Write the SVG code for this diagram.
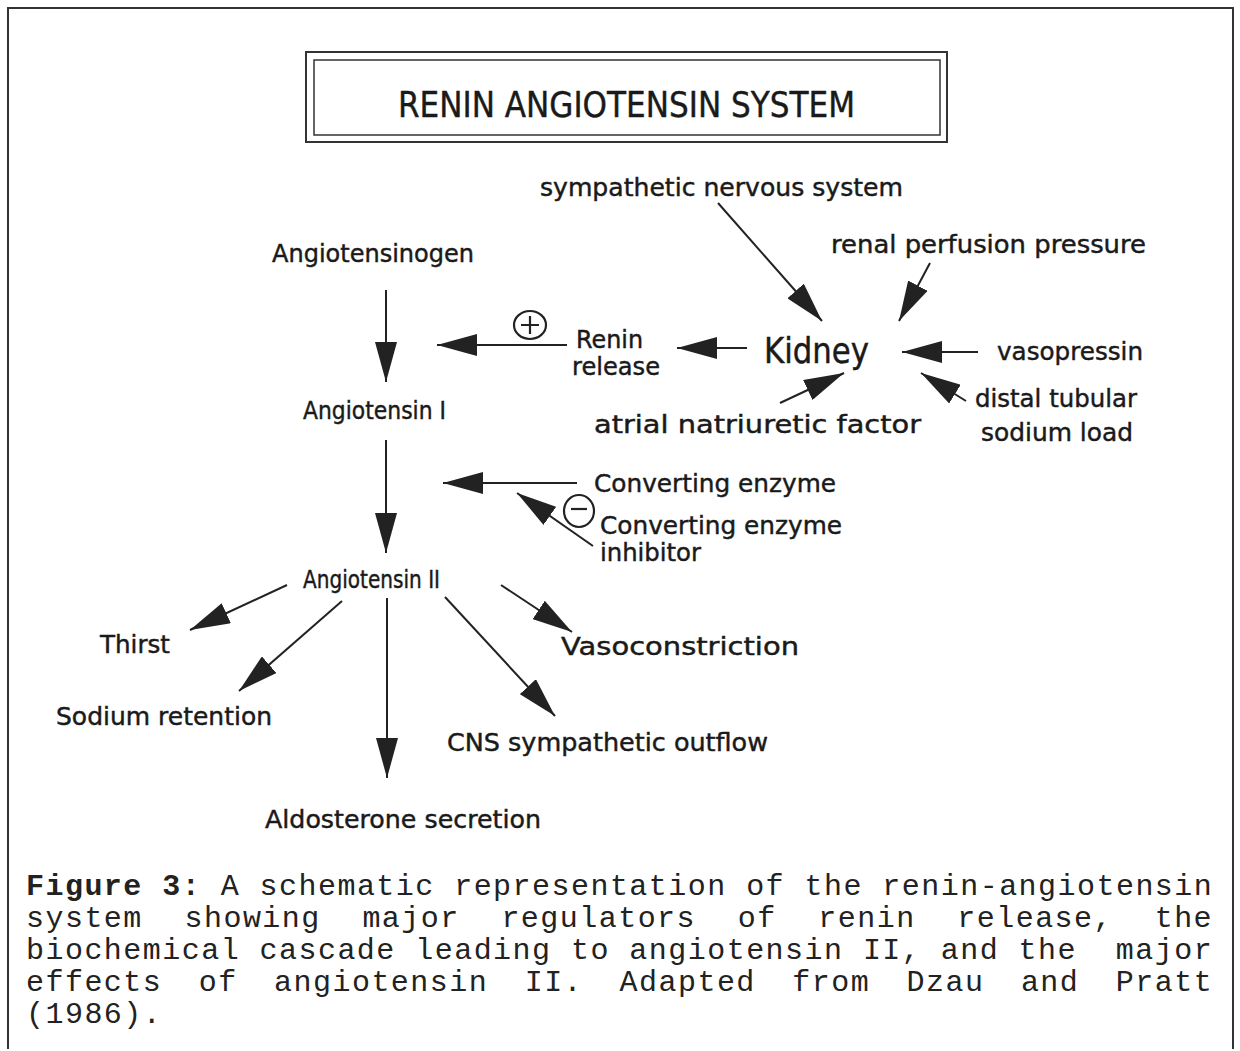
<svg xmlns="http://www.w3.org/2000/svg" width="1240" height="1051" viewBox="0 0 1240 1051">
<style>
.lbl{font-family:"DejaVu Sans","Liberation Sans",sans-serif;font-size:25px;fill:#1a1a1a;stroke:#1a1a1a;stroke-width:0.45px}
.big{font-size:36px}
.ttl{font-family:"DejaVu Sans Condensed","DejaVu Sans","Liberation Sans",sans-serif;font-size:36px;fill:#1a1a1a;stroke:#1a1a1a;stroke-width:0.4px}
.cap{font-family:"Liberation Mono","Courier New",monospace;font-size:30px;letter-spacing:1.46px;fill:#222}
.b{font-weight:bold}
.ln{stroke:#222;stroke-width:2;fill:none}
.sym{stroke:#222;stroke-width:2.2;fill:none}
</style>
<defs>
<marker id="ah" markerUnits="userSpaceOnUse" markerWidth="42" markerHeight="22" refX="40" refY="11" orient="auto">
<path d="M0,0 L40,11 L0,22 z" fill="#222"/>
</marker>
</defs>
<rect width="1240" height="1051" fill="#fff"/>
<path d="M8,1049 V8 H1233 V1049" stroke="#333" stroke-width="2" fill="none"/>

<g id="title">
<rect x="306" y="52" width="641" height="90" fill="none" stroke="#333" stroke-width="2"/>
<rect x="314" y="60" width="626" height="75" fill="none" stroke="#333" stroke-width="1.5"/>
<text class="ttl" x="398" y="117" textLength="457" lengthAdjust="spacingAndGlyphs">RENIN ANGIOTENSIN SYSTEM</text>
</g>

<g id="connectors">
<line class="ln" x1="386" y1="290" x2="386" y2="382" marker-end="url(#ah)"/>
<line class="ln" x1="386" y1="440" x2="386" y2="553" marker-end="url(#ah)"/>
<line class="ln" x1="567" y1="345" x2="437" y2="345" marker-end="url(#ah)"/>
<line class="ln" x1="747" y1="348" x2="677" y2="348" marker-end="url(#ah)"/>
<line class="ln" x1="718" y1="203" x2="822" y2="321" marker-end="url(#ah)"/>
<line class="ln" x1="930" y1="263" x2="899" y2="321" marker-end="url(#ah)"/>
<line class="ln" x1="978" y1="352" x2="902" y2="352" marker-end="url(#ah)"/>
<line class="ln" x1="966" y1="401" x2="921" y2="373" marker-end="url(#ah)"/>
<line class="ln" x1="780" y1="403" x2="844" y2="373" marker-end="url(#ah)"/>
<line class="ln" x1="577" y1="483" x2="443" y2="483" marker-end="url(#ah)"/>
<line class="ln" x1="593" y1="546" x2="517" y2="493" marker-end="url(#ah)"/>
<line class="ln" x1="287" y1="585" x2="190" y2="630" marker-end="url(#ah)"/>
<line class="ln" x1="342" y1="601" x2="239" y2="691" marker-end="url(#ah)"/>
<line class="ln" x1="387" y1="598" x2="387" y2="778" marker-end="url(#ah)"/>
<line class="ln" x1="501" y1="585" x2="572" y2="632" marker-end="url(#ah)"/>
<line class="ln" x1="445" y1="597" x2="555" y2="716" marker-end="url(#ah)"/>
</g>

<g id="plus">
<ellipse class="sym" cx="530" cy="325" rx="16" ry="14"/>
<path class="sym" d="M521,325 H539 M530,316 V334"/>
</g>
<g id="minus">
<ellipse class="sym" cx="579" cy="511" rx="15" ry="16"/>
<path class="sym" d="M571,509 H587"/>
</g>

<g id="sympathetic"><text class="lbl" x="540" y="196" textLength="363" lengthAdjust="spacingAndGlyphs">sympathetic nervous system</text></g>
<g id="renal"><text class="lbl" x="831" y="253" textLength="315" lengthAdjust="spacingAndGlyphs">renal perfusion pressure</text></g>
<g id="angiotensinogen"><text class="lbl" x="272" y="262" textLength="202" lengthAdjust="spacingAndGlyphs">Angiotensinogen</text></g>
<g id="renin"><text class="lbl" x="576" y="348" textLength="67" lengthAdjust="spacingAndGlyphs">Renin</text>
<text class="lbl" x="572" y="375" textLength="88" lengthAdjust="spacingAndGlyphs">release</text></g>
<g id="kidney"><text class="lbl big" x="764" y="363" textLength="105" lengthAdjust="spacingAndGlyphs">Kidney</text></g>
<g id="vasopressin"><text class="lbl" x="997" y="360" textLength="146" lengthAdjust="spacingAndGlyphs">vasopressin</text></g>
<g id="angiotensin1"><text class="lbl" x="303" y="419" textLength="143" lengthAdjust="spacingAndGlyphs">Angiotensin I</text></g>
<g id="anf"><text class="lbl" x="594" y="433" textLength="327" lengthAdjust="spacingAndGlyphs">atrial natriuretic factor</text></g>
<g id="distal"><text class="lbl" x="975" y="407" textLength="162" lengthAdjust="spacingAndGlyphs">distal tubular</text>
<text class="lbl" x="981" y="441" textLength="152" lengthAdjust="spacingAndGlyphs">sodium load</text></g>
<g id="ce"><text class="lbl" x="594" y="492" textLength="242" lengthAdjust="spacingAndGlyphs">Converting enzyme</text></g>
<g id="cei"><text class="lbl" x="600" y="534" textLength="242" lengthAdjust="spacingAndGlyphs">Converting enzyme</text>
<text class="lbl" x="600" y="561" textLength="101" lengthAdjust="spacingAndGlyphs">inhibitor</text></g>
<g id="angiotensin2"><text class="lbl" x="303" y="588" textLength="137" lengthAdjust="spacingAndGlyphs">Angiotensin II</text></g>
<g id="thirst"><text class="lbl" x="100" y="653" textLength="70" lengthAdjust="spacingAndGlyphs">Thirst</text></g>
<g id="vasoconstriction"><text class="lbl" x="561" y="655" textLength="238" lengthAdjust="spacingAndGlyphs">Vasoconstriction</text></g>
<g id="sodium"><text class="lbl" x="56" y="725" textLength="216" lengthAdjust="spacingAndGlyphs">Sodium retention</text></g>
<g id="cns"><text class="lbl" x="447" y="751" textLength="321" lengthAdjust="spacingAndGlyphs">CNS sympathetic outflow</text></g>
<g id="aldosterone"><text class="lbl" x="265" y="828" textLength="276" lengthAdjust="spacingAndGlyphs">Aldosterone secretion</text></g>

<g id="caption">
<text class="cap" x="26" y="895"><tspan class="b">Figure 3:</tspan> A schematic representation of the renin-angiotensin</text>
<text class="cap" y="927"><tspan x="26">system</tspan><tspan x="184.5">showing</tspan><tspan x="362.4">major</tspan><tspan x="501.4">regulators</tspan><tspan x="737.7">of</tspan><tspan x="818.3">renin</tspan><tspan x="957.3">release,</tspan><tspan x="1154.7">the</tspan></text>
<text class="cap" x="26" y="959">biochemical cascade leading to angiotensin II, and the <tspan x="1115.8">major</tspan></text>
<text class="cap" y="991"><tspan x="26">effects</tspan><tspan x="198.7">of</tspan><tspan x="274.1">angiotensin</tspan><tspan x="524.7">II.</tspan><tspan x="619.6">Adapted</tspan><tspan x="792.3">from</tspan><tspan x="906.6">Dzau</tspan><tspan x="1020.9">and</tspan><tspan x="1115.8">Pratt</tspan></text>
<text class="cap" x="26" y="1023">(1986).</text>
</g>
</svg>
